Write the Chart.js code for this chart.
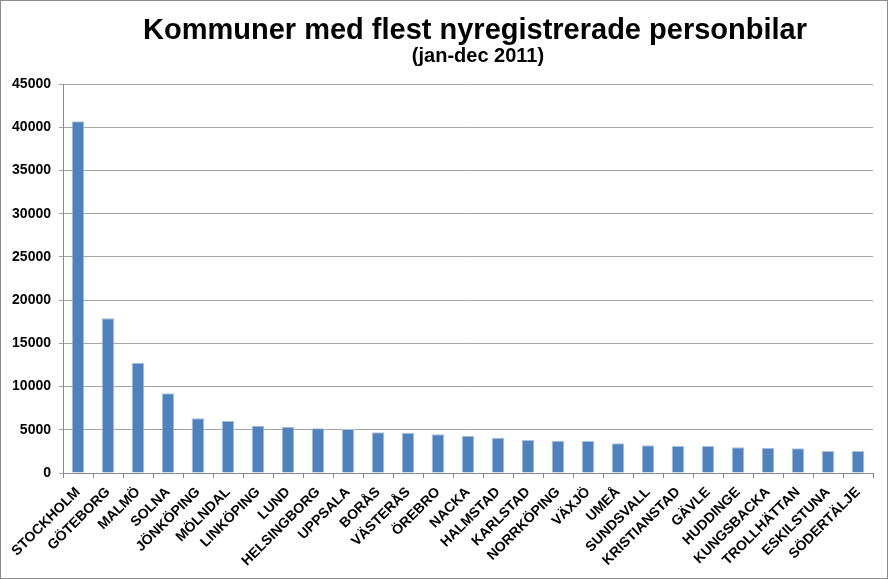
<!DOCTYPE html>
<html>
<head>
<meta charset="utf-8">
<script src="https://cdn.jsdelivr.net/npm/chart.js@4/dist/chart.umd.min.js"></script>
<style>
    html, body { margin: 0; padding: 0; background: #fff; }
    #wrap { width: 888px; height: 579px; box-sizing: border-box; border: 1px solid #8c8c8c; }
    canvas { display: block; }
</style>
</head>
<body>
<div id="wrap"><canvas id="chart" width="886" height="577"></canvas></div>
<script>
const titleText = 'Kommuner med flest nyregistrerade personbilar';
const subtitleText = '(jan-dec 2011)';

const kommuner = ['STOCKHOLM', 'GÖTEBORG', 'MALMÖ', 'SOLNA', 'JÖNKÖPING', 'MÖLNDAL', 'LINKÖPING', 'LUND',
    'HELSINGBORG', 'UPPSALA', 'BORÅS', 'VÄSTERÅS', 'ÖREBRO', 'NACKA', 'HALMSTAD', 'KARLSTAD', 'NORRKÖPING',
    'VÄXJÖ', 'UMEÅ', 'SUNDSVALL', 'KRISTIANSTAD', 'GÄVLE', 'HUDDINGE', 'KUNGSBACKA', 'TROLLHÄTTAN',
    'ESKILSTUNA', 'SÖDERTÄLJE'];
const nyregistrerade = [40700, 17900, 12750, 9220, 6330, 6020, 5480, 5360,
    5170, 5090, 4710, 4670, 4480, 4320, 4090, 3820, 3740,
    3700, 3430, 3200, 3130, 3130, 2970, 2930, 2860,
    2550, 2550];
const yMax = 45000;
const yStep = 5000;

const fontFamily = '"Liberation Sans", Arial, sans-serif';

// title drawn centred over the plot area
const titlePlugin = {
    id: 'titleText',
    afterDraw(chart) {
        const ctx = chart.ctx;
        const area = chart.chartArea;
        const cx = (area.left + area.right) / 2 + 7;
        ctx.save();
        ctx.fillStyle = '#000';
        ctx.textAlign = 'center';
        ctx.textBaseline = 'alphabetic';
        ctx.font = 'bold 29px ' + fontFamily;
        ctx.fillText(titleText, cx, 38);
        ctx.font = 'bold 20px ' + fontFamily;
        ctx.fillText(subtitleText, cx + 3, 61);
        ctx.restore();
    }
};

new Chart(document.getElementById('chart').getContext('2d'), {
    type: 'bar',
    data: {
        labels: kommuner,
        datasets: [{
            data: nyregistrerade,
            backgroundColor: '#4f81bd',
            borderColor: '#a9c2df',
            borderWidth: 1,
            barPercentage: 0.42,
            categoryPercentage: 1
        }]
    },
    options: {
        responsive: false,
        animation: false,
        layout: { padding: { top: 83, right: 14, left: 0, bottom: 0 } },
        plugins: {
            legend: { display: false },
            tooltip: { enabled: false }
        },
        scales: {
            x: {
                grid: { drawOnChartArea: false, drawTicks: true, tickLength: 5, color: '#888' },
                border: { color: '#888' },
                ticks: {
                    color: '#000',
                    font: { family: fontFamily, size: 14, weight: 'bold' },
                    maxRotation: 45,
                    minRotation: 45,
                    autoSkip: false,
                    padding: 6
                },
                afterFit: s => { s.height = 105; }
            },
            y: {
                min: 0,
                max: yMax,
                ticks: {
                    stepSize: yStep,
                    color: '#000',
                    padding: 8,
                    font: { family: fontFamily, size: 14, weight: 'bold' },
                    callback: v => String(v)
                },
                grid: { color: '#a6a6a6', tickLength: 4 },
                border: { color: '#888' },
                afterFit: s => { s.width = 62; }
            }
        }
    },
    plugins: [titlePlugin]
});
</script>
</body>
</html>
